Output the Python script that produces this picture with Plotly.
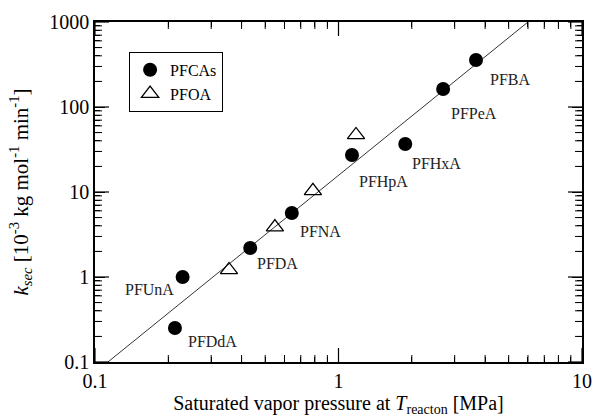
import plotly.graph_objects as go
import math

# PFCAs data
pfca_names = ["PFBA", "PFPeA", "PFHxA", "PFHpA", "PFNA", "PFDA", "PFUnA", "PFDdA"]
pfca_x = [3.67, 2.69, 1.88, 1.136, 0.643, 0.434, 0.229, 0.213]
pfca_y = [357, 163, 36.7, 27.2, 5.66, 2.19, 1.0, 0.251]
# label offsets in pixels (dx, dy)
label_dx = [34, 31, 31, 32, 29, 27, -33, 38]
label_dy = [-19, -25, -19, -27, -18, -15, -12, -13]

# PFOA data
pfoa_x = [1.18, 0.785, 0.548, 0.355]
pfoa_y = [46.9, 10.3, 3.87, 1.21]

# Fit line
fit_x = [0.113, 6.0]
fit_y = [0.1, 1000]

# Axis limits and tick values
x_edges = [0.1, 10]
y_edges = [0.1, 1000]
x_major = [0.1, 1, 10]
y_major = [0.1, 1, 10, 100, 1000]
x_minor = [m * d for d in [0.1, 1] for m in range(2, 10)]
y_minor = [m * d for d in [0.1, 1, 10, 100] for m in range(2, 10)]

FONT = "Liberation Serif"

fig = go.Figure()
fig.add_trace(go.Scatter(x=fit_x, y=fit_y, mode="lines",
                         line=dict(color="black", width=0.8), showlegend=False,
                         hoverinfo="skip"))
fig.add_trace(go.Scatter(x=pfca_x, y=pfca_y, mode="markers", name="PFCAs",
                         marker=dict(symbol="circle", size=14, color="black")))
fig.add_trace(go.Scatter(x=pfoa_x, y=pfoa_y, mode="markers", name="PFOA",
                         marker=dict(symbol="triangle-up-open", size=15, color="black",
                                     line=dict(width=1.3, color="black"))))

# inward tick marks on all four sides (half of each line marker is clipped by the plot area)
def tick_trace(xs, ys, symbol, size, width):
    return go.Scatter(x=xs, y=ys, mode="markers", showlegend=False, hoverinfo="skip",
                      cliponaxis=True,
                      marker=dict(symbol=symbol, size=size, color="black",
                                  line=dict(width=width, color="black")))

for yv in y_edges:
    fig.add_trace(tick_trace(x_major, [yv] * len(x_major), "line-ns", 20, 1.2))
    fig.add_trace(tick_trace(x_minor, [yv] * len(x_minor), "line-ns", 10, 1))
for xv in x_edges:
    fig.add_trace(tick_trace([xv] * len(y_major), y_major, "line-ew", 20, 1.2))
    fig.add_trace(tick_trace([xv] * len(y_minor), y_minor, "line-ew", 10, 1))

for n, x, y, dx, dy in zip(pfca_names, pfca_x, pfca_y, label_dx, label_dy):
    fig.add_annotation(x=math.log10(x), y=math.log10(y), text=n, showarrow=False,
                       xshift=dx, yshift=dy, font=dict(family=FONT, size=16, color="#222"))

def axis(rng, title, tsize):
    return dict(
        type="log", range=rng, showline=True, linecolor="black", linewidth=1.5, mirror="allticks",
        ticks="inside", ticklen=10, tickwidth=1.2, tickcolor="black",
        showgrid=False, zeroline=False, dtick=1, exponentformat="none", automargin=False,
        tickfont=dict(family=FONT, size=20, color="black"),
        minor=dict(ticks="inside", ticklen=5, tickwidth=1, tickcolor="black", showgrid=False),
        title=dict(text=title, font=dict(family=FONT, size=tsize, color="black")),
    )

fig.update_layout(
    width=595, height=417,
    margin=dict(l=95, r=13, t=22, b=55),
    plot_bgcolor="white", paper_bgcolor="white",
    xaxis=axis([-1, 1], "Saturated vapor pressure at <i>T</i><sub>reacton</sub> [MPa]", 20),
    yaxis=axis([-1, 3], "<i>k<sub>sec</sub></i> [10<sup>-3</sup> kg mol<sup>-1</sup> min<sup>-1</sup>]", 21),
    legend=dict(x=0.07, y=0.912, xanchor="left", yanchor="top",
                bordercolor="black", borderwidth=1, bgcolor="white",
                font=dict(family=FONT, size=16, color="black"),
                tracegroupgap=0, itemwidth=30),
)

fig.write_html("out.html")
